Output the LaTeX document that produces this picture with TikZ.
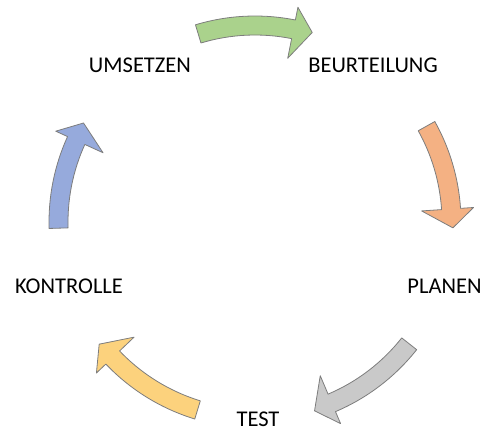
\documentclass[tikz,border=0pt]{standalone}
\usepackage{fontspec}
\setmainfont{Carlito}
\usetikzlibrary{calc}

\definecolor{arrowgreen}{RGB}{170,210,140}
\definecolor{arroworange}{RGB}{244,177,131}
\definecolor{arrowgray}{RGB}{201,201,201}
\definecolor{arrowyellow}{RGB}{252,210,125}
\definecolor{arrowblue}{RGB}{150,170,220}
\definecolor{rimgray}{RGB}{125,125,125}

\tikzset{
  phase/.style={inner sep=0pt, anchor=base, font=\fontsize{22.5}{27}\selectfont},
  cycarrow/.style={draw=rimgray, line width=0.8pt, line join=round}
}

% curved arrow round (c): tail angle, tip angle, colour
\newcommand{\cyclearrow}[3]{%
  \pgfmathsetmacro{\hb}{#2+5.5}
  \filldraw[cycarrow, fill=#3] ($(c)+(#1:206)$)
    arc[start angle=#1, end angle=\hb, radius=206]
    -- ($(c)+(\hb:219)$) -- ($(c)+(#2:198)$) -- ($(c)+(\hb:167)$)
    -- ($(c)+(\hb:187)$)
    arc[start angle=\hb, end angle=#1, radius=187] -- cycle;}

\begin{document}
\begin{tikzpicture}[x=1pt, y=1pt]
  \useasboundingbox (0,0) rectangle (485,432);
  \coordinate (c) at (255,210);

  \node[phase] (umsetzen) at (140,359) {UMSETZEN};
  \node[phase] (beurteilung) at (373,359) {BEURTEILUNG};
  \node[phase] (planen) at (444.5,139) {PLANEN};
  \node[phase] (test) at (258,6) {TEST};
  \node[phase] (kontrolle) at (69,139) {KONTROLLE};

  \cyclearrow{106.8}{73.2}{arrowgreen}
  \cyclearrow{29.2}{-1.7}{arroworange}
  \cyclearrow{-38.3}{-72.5}{arrowgray}
  \cyclearrow{-107}{-141.9}{arrowyellow}
  \cyclearrow{181.8}{150}{arrowblue}
\end{tikzpicture}
\end{document}
